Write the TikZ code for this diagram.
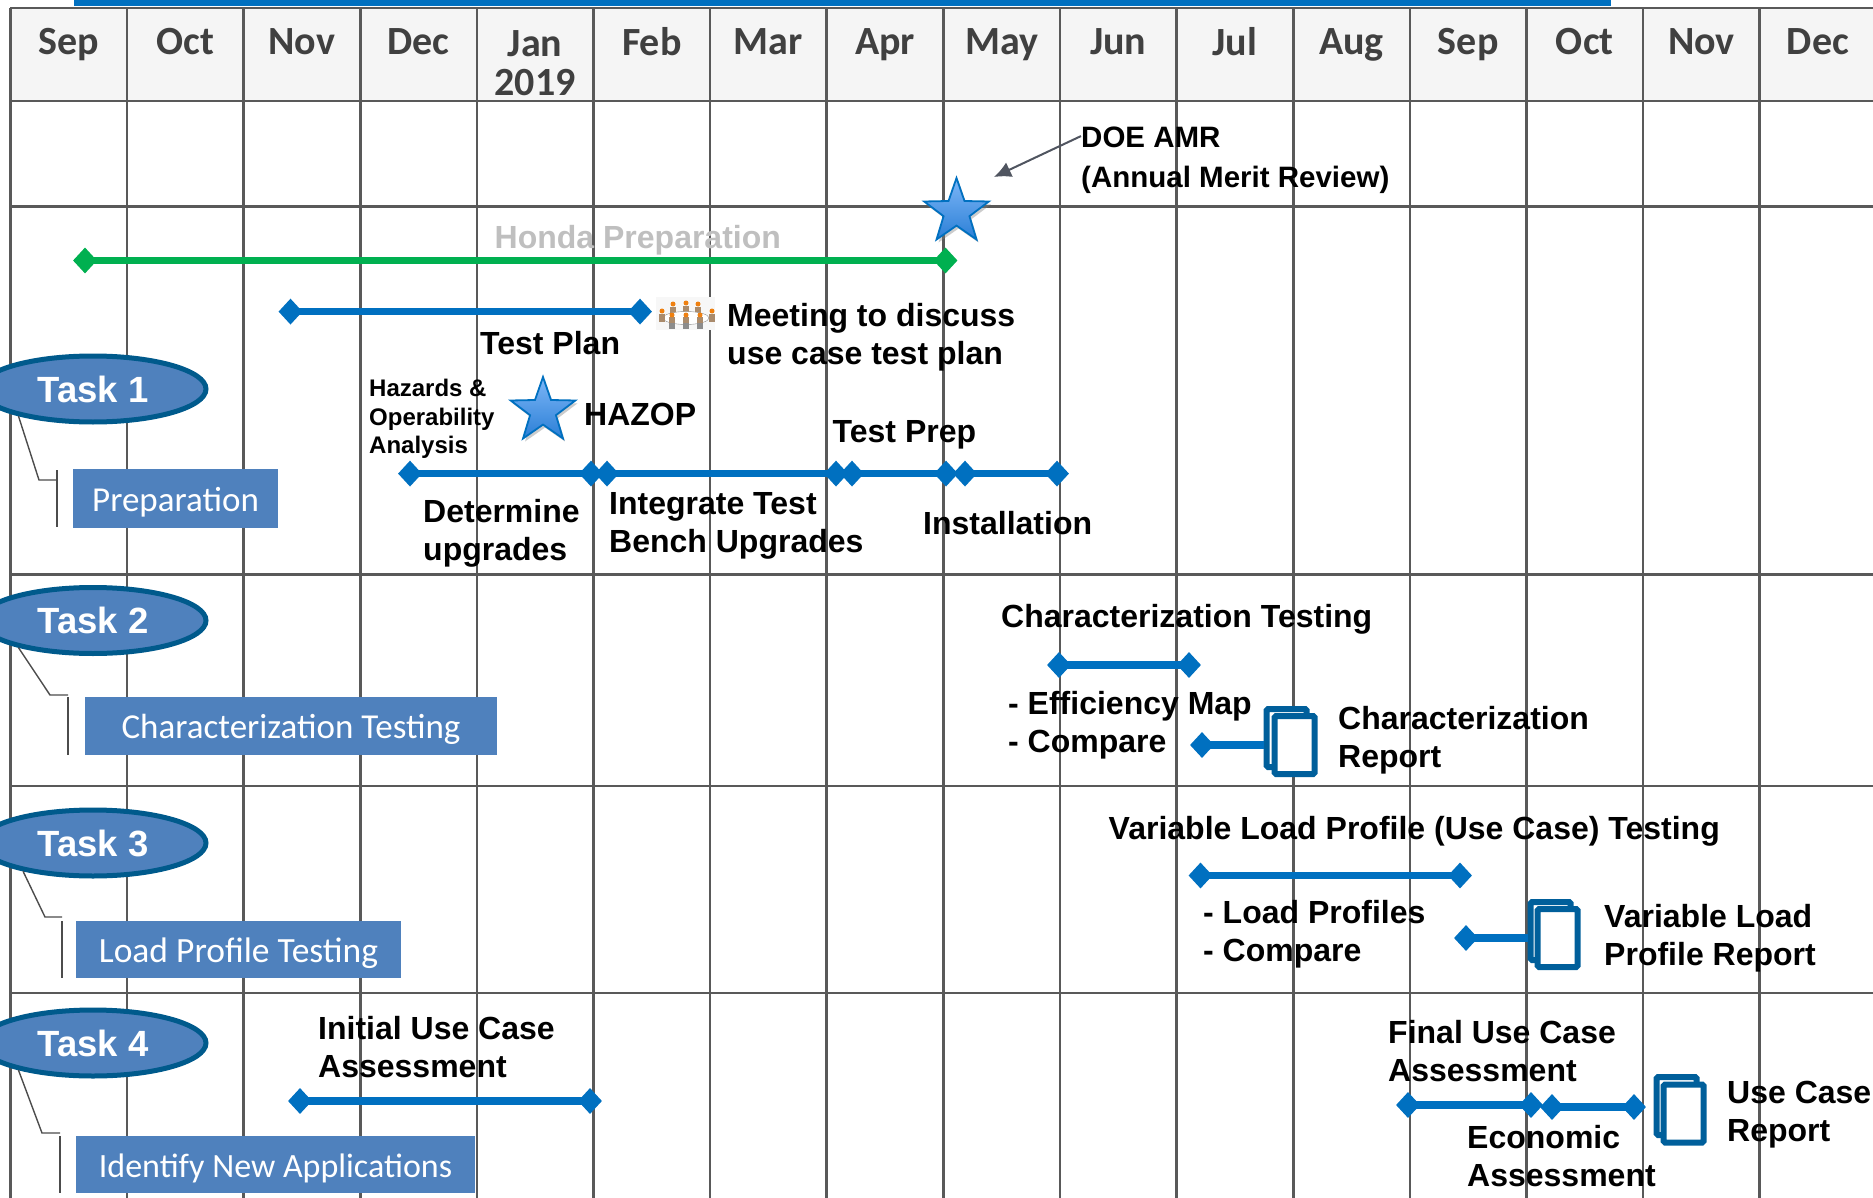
\documentclass[tikz,border=0pt]{standalone}
\usepackage{fontspec}
\setmainfont{Liberation Sans}
\newfontfamily\calfont{Carlito}
\usetikzlibrary{shapes.geometric,shadows,arrows.meta}
\definecolor{gridgray}{HTML}{595959}
\definecolor{barblue}{HTML}{0070C0}
\definecolor{bargreen}{HTML}{00B050}
\definecolor{taskblue}{HTML}{4F81BD}
\definecolor{taskedge}{HTML}{005A8C}
\definecolor{docedge}{HTML}{005F9B}
\definecolor{arrowgray}{HTML}{505560}
\definecolor{startop}{HTML}{7DB6F7}
\definecolor{starbot}{HTML}{2B7FD6}
\begin{document}
\begin{tikzpicture}[x=1pt,y=-1pt,
    gline/.style={draw=gridgray,line width=2.6pt},
    month/.style={font=\calfont\fontsize{40}{39}\selectfont\bfseries,text=black!75,align=center,anchor=north,inner sep=0pt,execute at begin node={\strut}},
    bluebar/.style={draw=barblue,line width=7.5pt},
    greenbar/.style={draw=bargreen,line width=7.5pt},
    bluedot/.style={diamond,fill=barblue,minimum width=24pt,minimum height=26pt,inner sep=0pt},
    greendot/.style={diamond,fill=bargreen,minimum width=24pt,minimum height=26pt,inner sep=0pt},
    lab/.style={font=\fontsize{32}{38}\selectfont\bfseries,align=left,anchor=west,inner sep=0pt},
    smalllab/.style={font=\fontsize{24}{28.7}\selectfont\bfseries,align=left,anchor=west,inner sep=0pt},
    task/.style={ellipse,fill=taskblue,draw=taskedge,line width=5pt,minimum width=226pt,minimum height=66pt,inner sep=0pt,text=white,font=\fontsize{36.5}{40}\selectfont\bfseries},
    taskbox/.style={fill=taskblue,text=white,inner sep=0pt,text height=30pt,text depth=5pt,font=\calfont\fontsize{35}{36}\selectfont},
    callline/.style={draw=black!70,line width=1.4pt},
    prize/.style={star,star points=5,star point ratio=2.5,minimum size=68pt,inner sep=0pt,draw=barblue,line width=1.8pt,top color=startop,bottom color=starbot,drop shadow={opacity=0.4,shadow xshift=2pt,shadow yshift=-3pt}},
    docpage/.style={draw=docedge,fill=white,line width=6pt,rounded corners=1.5pt,minimum width=40pt,minimum height=58pt,inner sep=0pt},
    head/.style={circle,fill=orange!75!brown,inner sep=0pt,minimum size=5pt},
    torso/.style={fill=brown!70!black!70,inner sep=0pt,minimum width=6pt,minimum height=8pt},
    leg/.style={fill=black!45,inner sep=0pt,minimum width=6pt,minimum height=8pt}
  ]
  \useasboundingbox (0,0) rectangle (1873,1198);
  % header band
  \fill[black!4] (10.3,8) rectangle (1873,101);
  \fill[barblue] (74,0) rectangle (1611,6);
  % rows
  \draw[gline] (10.3,8) -- (1873,8);
  \draw[gline] (10.3,101) -- (1873,101);
  \draw[gline] (10.3,206.5) -- (1873,206.5);
  \draw[gline] (10.3,574.5) -- (1873,574.5);
  \draw[gline] (10.3,786) -- (1873,786);
  \draw[gline] (10.3,993) -- (1873,993);
  % months
  \draw[gline] (10.3,8) -- (10.3,1198);
  \draw[gline] (127,8) -- (127,1198);
  \draw[gline] (243.6,8) -- (243.6,1198);
  \draw[gline] (360.2,8) -- (360.2,1198);
  \draw[gline] (476.8,8) -- (476.8,1198);
  \draw[gline] (593.5,8) -- (593.5,1198);
  \draw[gline] (710.1,8) -- (710.1,1198);
  \draw[gline] (826.7,8) -- (826.7,1198);
  \draw[gline] (943.3,8) -- (943.3,1198);
  \draw[gline] (1060,8) -- (1060,1198);
  \draw[gline] (1176.6,8) -- (1176.6,1198);
  \draw[gline] (1293.2,8) -- (1293.2,1198);
  \draw[gline] (1409.8,8) -- (1409.8,1198);
  \draw[gline] (1526.5,8) -- (1526.5,1198);
  \draw[gline] (1643.1,8) -- (1643.1,1198);
  \draw[gline] (1759.7,8) -- (1759.7,1198);
  \node[month] (m1) at (68.6,27.5) {Sep};
  \node[month] (m2) at (185.3,27.5) {Oct};
  \node[month] (m3) at (301.9,27.5) {Nov};
  \node[month] (m4) at (418.5,27.5) {Dec};
  \node[month] (m5) at (535.2,30) {Jan\\2019};
  \node[month] (m6) at (651.8,27.5) {Feb};
  \node[month] (m7) at (768.4,27.5) {Mar};
  \node[month] (m8) at (885,27.5) {Apr};
  \node[month] (m9) at (1001.7,27.5) {May};
  \node[month] (m10) at (1118.3,27.5) {Jun};
  \node[month] (m11) at (1234.9,27.5) {Jul};
  \node[month] (m12) at (1351.5,27.5) {Aug};
  \node[month] (m13) at (1468.2,27.5) {Sep};
  \node[month] (m14) at (1584.8,27.5) {Oct};
  \node[month] (m15) at (1701.4,27.5) {Nov};
  \node[month] (m16) at (1818,27.5) {Dec};
  % AMR
  \node[prize] (amrstar) at (956.5,212) {};
  \node[font=\fontsize{29.5}{39.5}\selectfont\bfseries,align=left,anchor=west,inner sep=0pt] (doe) at (1081,160.5) {DOE AMR\\(Annual Merit Review)};
  \coordinate (doetip) at (994,177);
  \draw[draw=arrowgray,line width=2pt,-{Latex[length=17pt,width=16pt]}] (doe.171) -- (doetip);
  % task 1
  \node[font=\fontsize{32}{38}\selectfont\bfseries,text=black!25,anchor=west,inner sep=0pt] (honda) at (494.5,240) {Honda Preparation};
  \node[greendot] (g1) at (85,260.5) {};
  \node[greendot] (g2) at (945.5,260.5) {};
  \draw[greenbar] (g1.center) -- (g2.center);
  \node[bluedot] (tp1) at (290.5,311.6) {};
  \node[bluedot] (tp2) at (640,311.6) {};
  \draw[bluebar] (tp1.center) -- (tp2.center);
  \node[lab] (testplan) at (480,343) {Test Plan};
  % meeting icon
  \fill[black!3] (656,297) rectangle (715,330);
  \node[torso] (t1) at (673,311) {};
  \node[torso] (t2) at (686,310) {};
  \node[torso] (t3) at (698,311) {};
  \node[head] (h1) at (673,304) {};
  \node[head] (h2) at (686,303) {};
  \node[head] (h3) at (698,304) {};
  \node[fill=white,draw=black!45,ellipse,minimum width=46pt,minimum height=13pt,inner sep=0pt] (table) at (686,318) {};
  \node[torso] (t4) at (662,318) {};
  \node[head] (h4) at (662,311) {};
  \node[torso] (t5) at (712,318) {};
  \node[head] (h5) at (712,311) {};
  \node[leg] (l6) at (672,325) {};
  \node[leg] (l7) at (686,325) {};
  \node[leg] (l8) at (700,325) {};
  \node[torso,minimum height=6pt] (t6) at (672,320) {};
  \node[torso,minimum height=6pt] (t7) at (686,320) {};
  \node[torso,minimum height=6pt] (t8) at (700,320) {};
  \node[head] (h6) at (672,315) {};
  \node[head] (h7) at (686,315) {};
  \node[head] (h8) at (700,315) {};
  \node[lab] (meeting) at (727,337) {Meeting to discuss\\use case test plan};
  \node[smalllab] (hazards) at (369,419) {Hazards \&\\Operability\\Analysis};
  \node[prize] (hazstar) at (543,411) {};
  \node[lab] (hazop) at (584,414) {HAZOP};
  \node[bluedot] (d1) at (410,473.6) {};
  \node[bluedot] (d2) at (591,473.6) {};
  \node[bluedot] (d3) at (607,473.6) {};
  \node[bluedot] (d4) at (836,473.6) {};
  \node[bluedot] (d5) at (852,473.6) {};
  \node[bluedot] (d6) at (946,473.6) {};
  \node[bluedot] (d7) at (965,473.6) {};
  \node[bluedot] (d8) at (1057,473.6) {};
  \draw[bluebar] (d1.center) -- (d2.center);
  \draw[bluebar] (d3.center) -- (d4.center);
  \draw[bluebar] (d5.center) -- (d6.center);
  \draw[bluebar] (d7.center) -- (d8.center);
  \node[lab] (prep) at (832.5,434.5) {Test Prep};
  \node[lab] (upgrades) at (423,533) {Determine\\upgrades};
  \node[lab] (bench) at (609,526) {Integrate Test\\Bench Upgrades};
  \node[lab] (install) at (923,523) {Installation};
  \node[task] (task1) at (93,389) {Task 1};
  \node[taskbox,minimum width=205pt,minimum height=59pt] (box1) at (175.5,498.5) {Preparation};
  \coordinate (bar1a) at (57,470);
  \coordinate (bar1b) at (57,527);
  \coordinate (elb1) at (39,480);
  \coordinate (elc1) at (57,480);
  \draw[callline] (task1.200) -- (elb1) -- (elc1);
  \draw[callline] (bar1a) -- (bar1b);
  % task 2
  \node[lab] (chartitle) at (1001,619.5) {Characterization Testing};
  \node[bluedot] (c1) at (1059,665) {};
  \node[bluedot] (c2) at (1189,665) {};
  \draw[bluebar] (c1.center) -- (c2.center);
  \node[lab] (effic) at (1008,725.5) {- Efficiency Map\\- Compare};
  \node[bluedot] (c3) at (1202,745) {};
  \node[docpage] (cdoc1) at (1286.5,738) {};
  \draw[bluebar] (c3.center) -- (c3.center -| cdoc1.west);
  \node[docpage] (cdoc2) at (1294.5,745) {};
  \node[lab] (charrep) at (1338,740.5) {Characterization\\Report};
  \node[task] (task2) at (93,620.5) {Task 2};
  \node[taskbox,minimum width=412pt,minimum height=58pt] (box2) at (291,726) {Characterization Testing};
  \coordinate (bar2a) at (68,697);
  \coordinate (bar2b) at (68,755);
  \coordinate (elb2) at (50,695);
  \coordinate (elc2) at (68,695);
  \draw[callline] (task2.200) -- (elb2) -- (elc2);
  \draw[callline] (bar2a) -- (bar2b);
  % task 3
  \node[lab] (vartitle) at (1108.5,831) {Variable Load Profile (Use Case) Testing};
  \node[bluedot] (v1) at (1200.5,875.5) {};
  \node[bluedot] (v2) at (1460,875.5) {};
  \draw[bluebar] (v1.center) -- (v2.center);
  \node[lab] (profiles) at (1203,934.5) {- Load Profiles\\- Compare};
  \node[bluedot] (v3) at (1466,938) {};
  \node[docpage] (vdoc1) at (1550.5,931) {};
  \draw[bluebar] (v3.center) -- (v3.center -| vdoc1.west);
  \node[docpage] (vdoc2) at (1557.5,938) {};
  \node[lab] (varrep) at (1604,938.5) {Variable Load\\Profile Report};
  \node[task] (task3) at (93,843) {Task 3};
  \node[taskbox,minimum width=325pt,minimum height=57pt,font=\calfont\fontsize{35.5}{36}\selectfont] (box3) at (238.5,949.5) {Load Profile Testing};
  \coordinate (bar3a) at (62,921);
  \coordinate (bar3b) at (62,978);
  \coordinate (elb3) at (45,917);
  \coordinate (elc3) at (62,917);
  \draw[callline] (task3.202) -- (elb3) -- (elc3);
  \draw[callline] (bar3a) -- (bar3b);
  % task 4
  \node[lab] (initial) at (318,1047.5) {Initial Use Case\\Assessment};
  \node[bluedot] (i1) at (300,1101) {};
  \node[bluedot] (i2) at (590,1101) {};
  \draw[bluebar] (i1.center) -- (i2.center);
  \node[lab] (final) at (1388,1051) {Final Use Case\\Assessment};
  \node[bluedot] (f1) at (1408,1105) {};
  \node[bluedot] (f2) at (1531,1105) {};
  \draw[bluebar] (f1.center) -- (f2.center);
  \node[bluedot] (f3) at (1552,1107) {};
  \node[bluedot] (f4) at (1634,1107) {};
  \draw[bluebar] (f3.center) -- (f4.center);
  \node[lab] (econ) at (1467,1156) {Economic\\Assessment};
  \node[docpage] (udoc1) at (1676.5,1106) {};
  \node[docpage] (udoc2) at (1683.5,1113.5) {};
  \node[lab] (usecase) at (1727,1114.5) {Use Case\\Report};
  \node[task] (task4) at (93,1043) {Task 4};
  \node[taskbox,minimum width=399pt,minimum height=57pt,font=\calfont\fontsize{34}{36}\selectfont] (box4) at (275.5,1164.5) {Identify New Applications};
  \coordinate (bar4a) at (60,1136);
  \coordinate (bar4b) at (60,1193);
  \coordinate (elb4) at (42,1133);
  \coordinate (elc4) at (60,1133);
  \draw[callline] (task4.200) -- (elb4) -- (elc4);
  \draw[callline] (bar4a) -- (bar4b);
\end{tikzpicture}
\end{document}
